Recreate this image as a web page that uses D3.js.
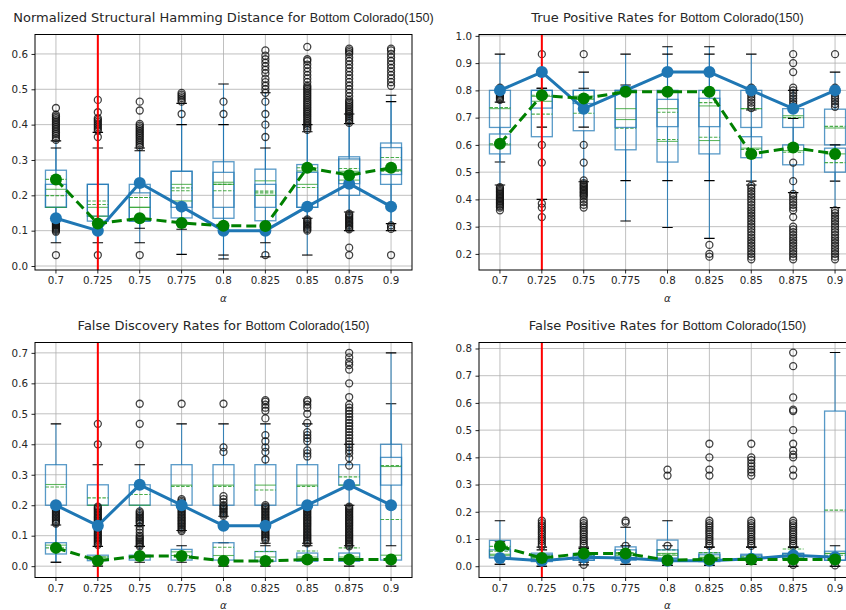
<!DOCTYPE html>
<html><head><meta charset="utf-8">
<script src="https://cdn.jsdelivr.net/npm/d3@7"></script>
<style>body{margin:0;background:#fff}svg{display:block}</style>
</head><body>
<svg id="chart" width="846" height="610"></svg>
<script>
// alpha levels on the x axis, and the level marked with the red rule
const alphas = ["0.7","0.725","0.75","0.775","0.8","0.825","0.85","0.875","0.9"];
const chosenAlpha = "0.725";
const subject = "Bottom Colorado(150)";

// ---- Normalized Structural Hamming Distance ----
const shdBlue  = [0.135,0.100,0.235,0.168,0.100,0.100,0.168,0.233,0.168];
const shdGreen = [0.245,0.120,0.135,0.122,0.114,0.113,0.278,0.257,0.278];
// box rows: [low whisker, q1, median, mean, q3, high whisker]
const shdBoxA = [[0.066,0.166,0.217,0.245,0.271,0.354],[0.066,0.127,0.166,0.184,0.231,0.378],[0.066,0.127,0.166,0.194,0.231,0.334],
  [0.033,0.136,0.231,0.221,0.268,0.460],[0.020,0.135,0.237,0.213,0.295,0.515],[0.026,0.128,0.241,0.212,0.274,0.490],
  [0.031,0.166,0.269,0.278,0.287,0.380],[0.100,0.200,0.268,0.276,0.309,0.430],[0.100,0.231,0.273,0.307,0.348,0.483]];
const shdBoxB = [[0.130,0.166,0.166,0.199,0.231,0.334],[0.104,0.141,0.141,0.174,0.231,0.334],[0.107,0.127,0.166,0.194,0.207,0.326],
  [0.104,0.166,0.184,0.213,0.268,0.400],[0.031,0.166,0.231,0.231,0.265,0.400],[0.066,0.166,0.200,0.207,0.231,0.334],
  [0.135,0.166,0.231,0.222,0.265,0.400],[0.153,0.233,0.243,0.262,0.303,0.403],[0.120,0.259,0.270,0.268,0.335,0.465]];
const shdOut = [
  [0.031,0.097,0.100,0.103,0.106,0.109,0.112,0.115,0.118,0.121,0.124,0.127,0.357,0.362,0.368,0.373,0.378,0.383,0.388,0.393,0.398,0.403,0.408,0.413,0.418,0.423,0.428,0.447],
  [0.031,0.365,0.383,0.388,0.393,0.398,0.403,0.408,0.413,0.418,0.435,0.470],
  [0.031,0.337,0.342,0.347,0.352,0.357,0.362,0.367,0.372,0.377,0.382,0.387,0.392,0.397,0.402,0.440,0.465],
  [0.430,0.465,0.470,0.475,0.480,0.485,0.490],
  [0.430,0.465],
  [0.031,0.365,0.400,0.430,0.465,0.490,0.500,0.510,0.520,0.530,0.545,0.555,0.565,0.575,0.585,0.595,0.610],
  [0.100,0.104,0.108,0.112,0.116,0.120,0.124,0.128,0.132,0.385,0.390,0.395,0.400,0.405,0.410,0.415,0.420,0.425,0.430,0.435,0.440,0.445,0.450,0.455,0.460,0.465,0.470,0.475,0.480,0.485,0.490,0.495,0.500,0.505,0.510,0.520,0.530,0.540,0.550,0.560,0.570,0.580,0.585,0.620],
  [0.031,0.052,0.104,0.108,0.112,0.116,0.120,0.124,0.128,0.132,0.136,0.140,0.144,0.148,0.405,0.410,0.415,0.420,0.425,0.430,0.435,0.440,0.445,0.450,0.455,0.460,0.465,0.470,0.480,0.490,0.500,0.510,0.520,0.530,0.540,0.550,0.560,0.570,0.580,0.590,0.600,0.605,0.610,0.615],
  [0.031,0.105,0.110,0.115,0.510,0.520,0.530,0.540,0.550,0.560,0.570,0.580,0.590,0.600,0.610,0.615]];

// ---- True Positive Rates ----
const tprBlue  = [0.800,0.867,0.733,0.800,0.867,0.867,0.800,0.733,0.800];
const tprGreen = [0.604,0.782,0.770,0.795,0.795,0.795,0.567,0.590,0.567];
const tprBoxA = [[0.537,0.664,0.733,0.737,0.800,0.933],[0.400,0.630,0.760,0.713,0.800,0.808],[0.465,0.652,0.767,0.716,0.800,0.867],
  [0.321,0.582,0.693,0.661,0.800,0.933],[0.297,0.537,0.613,0.620,0.800,0.960],[0.257,0.567,0.616,0.628,0.800,0.960],
  [0.467,0.664,0.733,0.733,0.800,0.933],[0.600,0.664,0.707,0.700,0.733,0.800],[0.467,0.600,0.662,0.668,0.731,0.867]];
const tprBoxB = [[0.453,0.567,0.600,0.604,0.640,0.757],[0.665,0.735,0.778,0.782,0.800,0.808],[0.665,0.752,0.779,0.771,0.800,0.808],
  [0.469,0.664,0.733,0.795,0.800,0.820],[0.469,0.667,0.733,0.720,0.767,0.933],[0.469,0.667,0.743,0.755,0.771,0.933],
  [0.453,0.553,0.588,0.583,0.630,0.728],[0.425,0.527,0.579,0.573,0.600,0.697],[0.370,0.500,0.567,0.535,0.588,0.600]];
const tprOut = [
  [0.360,0.370,0.375,0.380,0.385,0.390,0.395,0.400,0.405,0.410,0.415,0.420,0.425,0.430,0.435,0.440,0.445,0.765,0.770,0.775,0.780,0.785,0.790,0.795,0.800,0.805,0.810],
  [0.335,0.370,0.385,0.535,0.600,0.933],
  [0.370,0.380,0.390,0.400,0.410,0.415,0.420,0.425,0.430,0.435,0.440,0.445,0.450,0.455,0.460,0.470,0.535,0.600,0.933],
  [],
  [],
  [0.190,0.200,0.233],
  [0.180,0.190,0.200,0.210,0.220,0.230,0.240,0.250,0.260,0.270,0.280,0.290,0.300,0.310,0.320,0.330,0.340,0.350,0.360,0.370,0.380,0.390,0.400,0.410,0.420,0.430,0.440,0.450,0.735,0.745,0.755,0.765,0.775,0.785,0.795,0.805,0.810],
  [0.180,0.190,0.200,0.210,0.220,0.230,0.240,0.250,0.260,0.270,0.280,0.290,0.300,0.335,0.360,0.370,0.380,0.390,0.400,0.410,0.420,0.467,0.535,0.740,0.750,0.760,0.770,0.780,0.790,0.800,0.810,0.867,0.900,0.933],
  [0.180,0.190,0.200,0.210,0.220,0.230,0.240,0.250,0.260,0.270,0.280,0.290,0.300,0.310,0.320,0.330,0.340,0.350,0.360,0.740,0.750,0.760,0.770,0.780,0.790,0.800,0.810,0.933]];

// ---- False Discovery Rates ----
const fdrBlue  = [0.200,0.133,0.267,0.200,0.133,0.133,0.200,0.267,0.200];
const fdrGreen = [0.060,0.018,0.033,0.033,0.017,0.017,0.022,0.022,0.022];
const fdrBoxA = [[0.013,0.200,0.268,0.260,0.333,0.467],[0.133,0.200,0.200,0.224,0.267,0.333],[0.133,0.200,0.200,0.235,0.267,0.333],
  [0.117,0.200,0.266,0.262,0.333,0.467],[0.164,0.200,0.266,0.262,0.333,0.467],[0.075,0.200,0.266,0.250,0.333,0.467],
  [0.075,0.200,0.266,0.262,0.333,0.467],[0.200,0.266,0.266,0.293,0.333,0.400],[0.067,0.266,0.327,0.330,0.400,0.533]];
const fdrBoxB = [[0.013,0.040,0.069,0.060,0.077,0.135],[0.000,0.018,0.030,0.030,0.036,0.065],[0.013,0.020,0.030,0.034,0.036,0.065],
  [0.013,0.020,0.047,0.035,0.055,0.067],[0.000,0.020,0.035,0.062,0.077,0.077],[0.000,0.016,0.030,0.048,0.048,0.067],
  [0.013,0.016,0.030,0.050,0.043,0.067],[0.000,0.016,0.030,0.060,0.043,0.067],[0.000,0.020,0.036,0.153,0.357,0.700]];
const fdrOut = [
  [0.140,0.145,0.150,0.155,0.160,0.165,0.170,0.175,0.180,0.185,0.190,0.195],
  [0.070,0.075,0.080,0.085,0.090,0.095,0.100,0.105,0.110,0.115,0.120,0.125,0.130,0.135,0.140,0.145,0.150,0.155,0.160,0.165,0.170,0.175,0.180,0.185,0.190,0.195,0.400,0.467],
  [0.065,0.070,0.075,0.080,0.085,0.090,0.095,0.100,0.110,0.120,0.130,0.140,0.145,0.150,0.155,0.160,0.165,0.170,0.175,0.180,0.400,0.467,0.533],
  [0.115,0.120,0.125,0.130,0.135,0.140,0.145,0.150,0.155,0.160,0.165,0.170,0.175,0.180,0.185,0.190,0.195,0.200,0.205,0.210,0.215,0.220,0.533],
  [0.165,0.170,0.175,0.180,0.185,0.190,0.195,0.200,0.210,0.220,0.230,0.375,0.390,0.533],
  [0.085,0.090,0.095,0.100,0.105,0.110,0.115,0.120,0.125,0.130,0.135,0.140,0.145,0.150,0.155,0.160,0.165,0.170,0.175,0.180,0.185,0.190,0.195,0.200,0.350,0.375,0.390,0.410,0.430,0.485,0.510,0.520,0.530,0.540,0.545],
  [0.075,0.080,0.085,0.090,0.095,0.100,0.105,0.110,0.115,0.120,0.125,0.130,0.135,0.140,0.145,0.150,0.155,0.160,0.165,0.170,0.175,0.180,0.185,0.190,0.195,0.200,0.360,0.370,0.380,0.410,0.420,0.430,0.440,0.470,0.500,0.520,0.530,0.540,0.545],
  [0.065,0.070,0.075,0.080,0.085,0.090,0.095,0.100,0.105,0.110,0.115,0.120,0.125,0.130,0.135,0.140,0.145,0.150,0.155,0.160,0.165,0.170,0.175,0.180,0.185,0.190,0.195,0.330,0.355,0.370,0.380,0.390,0.400,0.410,0.420,0.430,0.440,0.450,0.460,0.470,0.480,0.490,0.500,0.510,0.520,0.530,0.555,0.600,0.645,0.660,0.670,0.685,0.700],
  []];

// ---- False Positive Rates ----
const fprBlue  = [0.030,0.020,0.033,0.030,0.020,0.020,0.027,0.040,0.033];
const fprGreen = [0.073,0.030,0.047,0.047,0.022,0.025,0.025,0.025,0.025];
const fprBoxA = [[0.007,0.033,0.040,0.073,0.095,0.167],[0.000,0.020,0.033,0.040,0.048,0.070],[0.015,0.022,0.033,0.045,0.047,0.070],
  [0.007,0.022,0.047,0.050,0.071,0.143],[0.003,0.028,0.047,0.060,0.096,0.167],[0.003,0.022,0.033,0.050,0.049,0.070],
  [0.007,0.025,0.033,0.035,0.044,0.070],[0.000,0.028,0.033,0.063,0.047,0.070],[0.000,0.022,0.047,0.206,0.570,0.785]];
const fprBoxB = [[0.007,0.030,0.044,0.055,0.060,0.090],[0.000,0.017,0.030,0.030,0.042,0.060],[0.005,0.022,0.030,0.040,0.040,0.065],
  [0.007,0.030,0.040,0.045,0.060,0.075],[0.003,0.030,0.040,0.045,0.060,0.075],[0.003,0.017,0.030,0.030,0.042,0.070],
  [0.007,0.022,0.030,0.030,0.040,0.070],[0.000,0.028,0.040,0.040,0.047,0.070],[0.000,0.022,0.047,0.040,0.055,0.075]];
const fprOut = [
  [],
  [0.075,0.083,0.092,0.100,0.108,0.117,0.125,0.133,0.142,0.150,0.158,0.167],
  [0.005,0.075,0.083,0.092,0.100,0.108,0.117,0.125,0.133,0.142,0.150,0.158,0.167],
  [0.075,0.160,0.167],
  [0.075,0.333,0.355],
  [0.075,0.083,0.092,0.100,0.108,0.117,0.125,0.133,0.142,0.150,0.158,0.167,0.333,0.355,0.400,0.450],
  [0.075,0.083,0.092,0.100,0.108,0.117,0.125,0.133,0.142,0.150,0.158,0.167,0.333,0.345,0.355,0.367,0.378,0.390,0.400,0.450],
  [0.005,0.075,0.083,0.092,0.100,0.108,0.117,0.125,0.133,0.142,0.150,0.158,0.167,0.333,0.355,0.400,0.410,0.425,0.450,0.500,0.570,0.575,0.620,0.735,0.785],
  [0.003]];

// tick values for each panel's y axis
const shdTicks = [0,0.1,0.2,0.3,0.4,0.5,0.6];
const tprTicks = [0.2,0.3,0.4,0.5,0.6,0.7,0.8,0.9,1.0];
const fdrTicks = [0,0.1,0.2,0.3,0.4,0.5,0.6,0.7];
const fprTicks = [0,0.1,0.2,0.3,0.4,0.5,0.6,0.7,0.8];

const panels = [
  {title:"Normalized Structural Hamming Distance for ", left:35, right:412, top:34.5, bottom:270, domain:[-0.0113,0.655], ticks:shdTicks, blue:shdBlue, green:shdGreen, boxA:shdBoxA, boxB:shdBoxB, out:shdOut},
  {title:"True Positive Rates for ", left:479, right:856, top:34.5, bottom:270, domain:[0.141,1.005], ticks:tprTicks, blue:tprBlue, green:tprGreen, boxA:tprBoxA, boxB:tprBoxB, out:tprOut},
  {title:"False Discovery Rates for ", left:35, right:412, top:342.5, bottom:577.5, domain:[-0.0372,0.734], ticks:fdrTicks, blue:fdrBlue, green:fdrGreen, boxA:fdrBoxA, boxB:fdrBoxB, out:fdrOut},
  {title:"False Positive Rates for ", left:479, right:856, top:342.5, bottom:577.5, domain:[-0.0415,0.822], ticks:fprTicks, blue:fprBlue, green:fprGreen, boxA:fprBoxA, boxB:fprBoxB, out:fprOut}
];

const svg = d3.select("#chart");
const BLUE = "#1f77b4", MEDIAN = "#2ca02c", DARKGREEN = "#008000", INK = "#262626";

panels.forEach((p, pi) => {
  const g = svg.append("g");
  const x = d3.scaleBand().domain(alphas).range([p.left, p.right]).padding(0);
  const y = d3.scaleLinear().domain(p.domain).range([p.bottom, p.top]);
  const cx = a => x(a) + x.bandwidth() / 2;
  const bw = x.bandwidth() * 0.5;

  const clipId = "clip" + pi;
  svg.append("clipPath").attr("id", clipId).append("rect")
    .attr("x", p.left).attr("y", p.top).attr("width", p.right - p.left).attr("height", p.bottom - p.top);

  // grid
  const grid = g.append("g").attr("stroke", "#b0b0b0").attr("stroke-width", 0.8);
  alphas.forEach(a => grid.append("line").attr("x1", cx(a)).attr("x2", cx(a)).attr("y1", p.top).attr("y2", p.bottom));
  p.ticks.forEach(t => grid.append("line").attr("x1", p.left).attr("x2", p.right).attr("y1", y(t)).attr("y2", y(t)));

  const plot = g.append("g").attr("clip-path", `url(#${clipId})`);

  // two overlaid box plots per alpha
  [p.boxA, p.boxB].forEach(boxes => {
    boxes.forEach((b, i) => {
      const [lo, q1, med, mean, q3, hi] = b;
      const c = cx(alphas[i]);
      const bg = plot.append("g");
      bg.append("line").attr("x1", c).attr("x2", c).attr("y1", y(q1)).attr("y2", y(lo))
        .attr("stroke", BLUE).attr("stroke-width", 1.1).attr("opacity", 0.85);
      bg.append("line").attr("x1", c).attr("x2", c).attr("y1", y(q3)).attr("y2", y(hi))
        .attr("stroke", BLUE).attr("stroke-width", 1.1).attr("opacity", 0.85);
      [lo, hi].forEach(v => bg.append("line").attr("x1", c - bw / 4).attr("x2", c + bw / 4)
        .attr("y1", y(v)).attr("y2", y(v)).attr("stroke", "#000").attr("stroke-width", 1.1));
      bg.append("rect").attr("x", c - bw / 2).attr("y", y(q3)).attr("width", bw).attr("height", y(q1) - y(q3))
        .attr("fill", "none").attr("stroke", BLUE).attr("stroke-width", 1.3).attr("opacity", 0.75);
      bg.append("line").attr("x1", c - bw / 2).attr("x2", c + bw / 2).attr("y1", y(med)).attr("y2", y(med))
        .attr("stroke", MEDIAN).attr("stroke-width", 1.1).attr("opacity", 0.75);
      bg.append("line").attr("x1", c - bw / 2).attr("x2", c + bw / 2).attr("y1", y(mean)).attr("y2", y(mean))
        .attr("stroke", MEDIAN).attr("stroke-width", 1.1).attr("stroke-dasharray", "3.5,1.5").attr("opacity", 0.85);
    });
  });

  // outlier points
  p.out.forEach((vals, i) => {
    plot.selectAll(null).data(vals).enter().append("circle")
      .attr("cx", cx(alphas[i])).attr("cy", d => y(d)).attr("r", 3.5)
      .attr("fill", "none").attr("stroke", "#111").attr("stroke-opacity", 0.8).attr("stroke-width", 1.3);
  });

  // selected alpha
  plot.append("line").attr("x1", cx(chosenAlpha)).attr("x2", cx(chosenAlpha)).attr("y1", p.top).attr("y2", p.bottom)
    .attr("stroke", "red").attr("stroke-width", 2);

  // summary lines
  const line = d3.line().x((d, i) => cx(alphas[i])).y(d => y(d));
  plot.append("path").datum(p.blue).attr("d", line).attr("fill", "none")
    .attr("stroke", BLUE).attr("stroke-width", 3).attr("stroke-linejoin", "round");
  plot.selectAll(null).data(p.blue).enter().append("circle")
    .attr("cx", (d, i) => cx(alphas[i])).attr("cy", d => y(d)).attr("r", 6).attr("fill", BLUE);
  plot.append("path").datum(p.green).attr("d", line).attr("fill", "none")
    .attr("stroke", DARKGREEN).attr("stroke-width", 3).attr("stroke-dasharray", "10,5");
  plot.selectAll(null).data(p.green).enter().append("circle")
    .attr("cx", (d, i) => cx(alphas[i])).attr("cy", d => y(d)).attr("r", 6).attr("fill", DARKGREEN);

  // axes
  const xAxis = d3.axisBottom(x).tickSize(3.5).tickPadding(3.5);
  const gx = g.append("g").attr("transform", `translate(0,${p.bottom})`).call(xAxis);
  const yAxis = d3.axisLeft(y).tickValues(p.ticks).tickFormat(d3.format(".1f")).tickSize(3.5).tickPadding(3.5);
  const gy = g.append("g").attr("transform", `translate(${p.left},0)`).call(yAxis);
  [gx, gy].forEach(a => {
    a.select(".domain").remove();
    a.selectAll("text").attr("font-family", "DejaVu Sans").attr("font-size", 10.3).attr("fill", INK);
    a.selectAll("line").attr("stroke", INK);
  });

  // frame
  g.append("rect").attr("x", p.left).attr("y", p.top).attr("width", p.right - p.left).attr("height", p.bottom - p.top)
    .attr("fill", "none").attr("stroke", "#000").attr("stroke-width", 1);

  // axis label
  g.append("text").attr("x", (p.left + p.right) / 2).attr("y", p.bottom + 31.5)
    .attr("text-anchor", "middle").attr("font-family", "DejaVu Sans").attr("font-style", "italic")
    .attr("font-size", 10.3).attr("fill", INK).text("α");

  // title
  const t = g.append("text").attr("x", (p.left + p.right) / 2).attr("y", p.top - 13)
    .attr("text-anchor", "middle").attr("fill", INK);
  t.append("tspan").attr("font-family", "DejaVu Sans").attr("font-size", 13).text(p.title);
  t.append("tspan").attr("font-family", "Liberation Sans").attr("font-size", 12.6).text(subject);
});
</script>
</body></html>
